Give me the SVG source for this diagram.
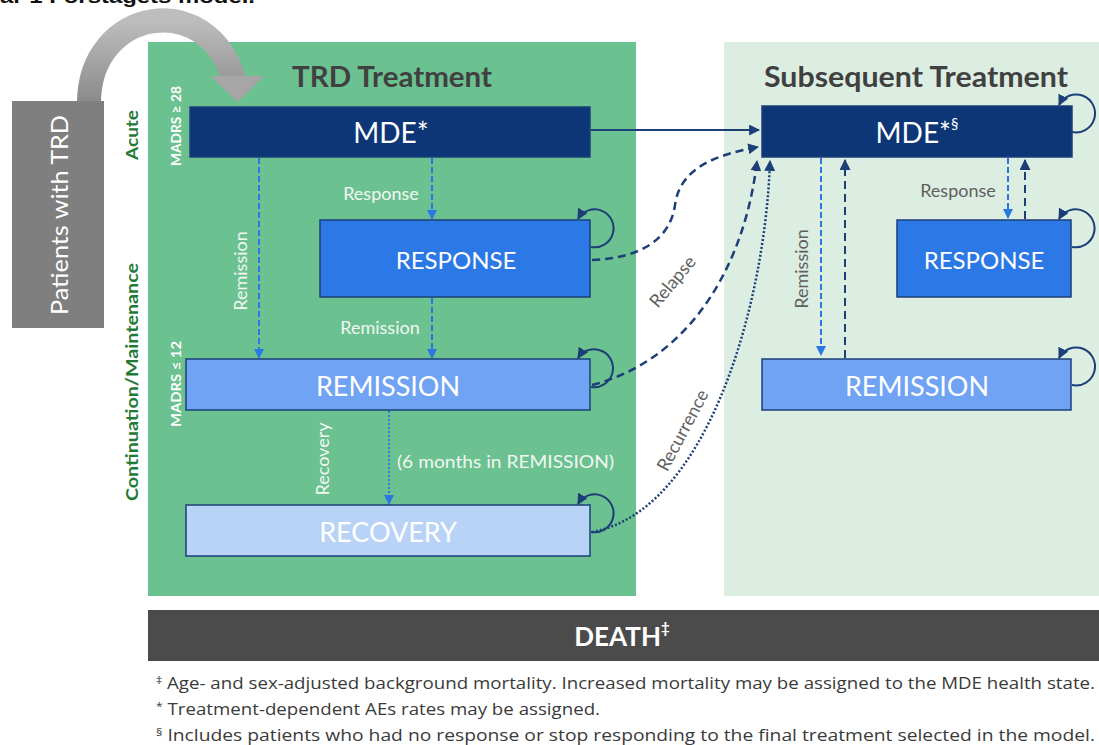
<svg xmlns="http://www.w3.org/2000/svg" width="1099" height="745" viewBox="0 0 1099 745">
<defs>
<style>
.lbl{font-family:Lato,"Open Sans","Liberation Sans",sans-serif;}
.node{stroke:#1d3f78;stroke-width:1.5;}
.nt{font-family:Lato,"Open Sans","Liberation Sans",sans-serif;fill:#ffffff;text-anchor:middle;dominant-baseline:central;}
.wl{font-family:Lato,"Open Sans","Liberation Sans",sans-serif;fill:#f2f7f2;font-size:18px;dominant-baseline:central;}
.gl{font-family:Lato,"Open Sans","Liberation Sans",sans-serif;fill:#5f5f5f;font-size:18px;text-anchor:middle;dominant-baseline:central;}
.loop{fill:none;stroke:#1d3f78;stroke-width:2;marker-end:url(#an);}
.bd{fill:none;stroke:#2b78e4;stroke-width:2;stroke-dasharray:6 3;marker-end:url(#ab);}
.nd{fill:none;stroke:#1d3f78;stroke-width:2.5;stroke-dasharray:8 5;marker-end:url(#an);}
.ndot{fill:none;stroke:#1d3f78;stroke-width:2.5;stroke-dasharray:2 2;marker-end:url(#an);}
.fn{font-family:"Open Sans","Liberation Sans",sans-serif;fill:#3a3a3a;font-size:17px;}
</style>
<marker id="an" viewBox="0 0 10 10" refX="9" refY="5" markerWidth="11" markerHeight="11" markerUnits="userSpaceOnUse" orient="auto">
<path d="M0,0 L10,5 L0,10 z" fill="#1d3f78"/>
</marker>
<marker id="ab" viewBox="0 0 10 10" refX="9" refY="5" markerWidth="10" markerHeight="10" markerUnits="userSpaceOnUse" orient="auto">
<path d="M0,0 L10,5 L0,10 z" fill="#2b78e4"/>
</marker>
<linearGradient id="gArc" x1="0" y1="0" x2="0" y2="1">
<stop offset="0" stop-color="#bdbdbd"/>
<stop offset="1" stop-color="#8a8a8a"/>
</linearGradient>
</defs>
<rect width="1099" height="745" fill="#ffffff"/>

<text x="0" y="3" font-family="Liberation Sans,sans-serif" font-weight="bold" font-size="18" fill="#111" textLength="255" lengthAdjust="spacingAndGlyphs">ar 1 Forstagets model.</text>

<!-- panels -->
<g id="panel-trd">
<rect x="148" y="42" width="488" height="554" fill="#6bc190"/>
<text x="392" y="76" class="lbl" font-size="28" font-weight="bold" fill="#404040" text-anchor="middle" dominant-baseline="central" textLength="200" lengthAdjust="spacingAndGlyphs">TRD Treatment</text>
</g>
<g id="panel-sub">
<rect x="724" y="42" width="375" height="554" fill="#dcede1"/>
<text x="916" y="76" class="lbl" font-size="28" font-weight="bold" fill="#404040" text-anchor="middle" dominant-baseline="central" textLength="304" lengthAdjust="spacingAndGlyphs">Subsequent Treatment</text>
</g>

<!-- side labels -->
<g id="side-labels">
<text transform="translate(131,135) rotate(-90)" class="lbl" font-size="17" font-weight="bold" fill="#1f7a36" text-anchor="middle" dominant-baseline="central" textLength="50" lengthAdjust="spacingAndGlyphs">Acute</text>
<text transform="translate(131,382) rotate(-90)" class="lbl" font-size="17" font-weight="bold" fill="#1f7a36" text-anchor="middle" dominant-baseline="central" textLength="238" lengthAdjust="spacingAndGlyphs">Continuation/Maintenance</text>
<text transform="translate(175,126) rotate(-90)" class="lbl" font-size="14" font-weight="bold" fill="#ffffff" text-anchor="middle" dominant-baseline="central" textLength="80" lengthAdjust="spacingAndGlyphs">MADRS ≥ 28</text>
<text transform="translate(175,384) rotate(-90)" class="lbl" font-size="14" font-weight="bold" fill="#ffffff" text-anchor="middle" dominant-baseline="central" textLength="86" lengthAdjust="spacingAndGlyphs">MADRS ≤ 12</text>
</g>

<!-- patients -->
<g id="patients">
<path d="M89,103 C89,8 208,-12 234,80" fill="none" stroke="url(#gArc)" stroke-width="24"/>
<polygon points="210,76 264,76 238,102" fill="#a6a6a6"/>
<rect x="12" y="101" width="92" height="227" fill="#7f7f7f"/>
<text transform="translate(58,215) rotate(-90)" class="nt" font-size="24" textLength="200" lengthAdjust="spacingAndGlyphs">Patients with TRD</text>
</g>

<!-- connectors -->
<g id="connectors">
<line x1="591" y1="130" x2="759" y2="130" stroke="#1d3f78" stroke-width="2" marker-end="url(#an)"/>
<line x1="259" y1="158" x2="259" y2="358" class="bd"/>
<line x1="432" y1="158" x2="432" y2="219" class="bd"/>
<line x1="432" y1="298" x2="432" y2="358" class="bd"/>
<line x1="389" y1="411" x2="389" y2="504" class="bd" style="stroke-dasharray:2 2"/>
<path d="M592,260 C640,258 670,240 675,205 C680,168 715,155 758,147" class="nd"/>
<path d="M592,385 C690,360 745,265 757,161" class="nd"/>
<path d="M592,532 C705,512 765,310 770,161" class="ndot"/>
<line x1="821" y1="158" x2="821" y2="355" class="bd"/>
<line x1="845" y1="358" x2="845" y2="160" class="nd" style="stroke-width:2"/>
<line x1="1008" y1="158" x2="1008" y2="218" class="bd"/>
<line x1="1025" y1="219" x2="1025" y2="160" class="nd" style="stroke-width:2"/>
<!-- self loops -->
<path d="M591,247 A19,19 0 1 0 578,219" class="loop"/>
<path d="M591,387 A19,19 0 1 0 578,358" class="loop"/>
<path d="M591,532 A19,19 0 1 0 578,504" class="loop"/>
<path d="M1072,132 A19,19 0 1 0 1059,105" class="loop"/>
<path d="M1072,247 A19,19 0 1 0 1059,219" class="loop"/>
<path d="M1072,385 A19,19 0 1 0 1059,358" class="loop"/>
<!-- labels -->
<text x="381" y="193" class="wl" style="text-anchor:middle">Response</text>
<text x="380" y="327" class="wl" style="text-anchor:middle">Remission</text>
<text transform="translate(240,271) rotate(-90)" class="wl" style="text-anchor:middle">Remission</text>
<text transform="translate(322,459) rotate(-90)" class="wl" style="text-anchor:middle">Recovery</text>
<text x="397" y="461" class="wl" style="text-anchor:start" textLength="217" lengthAdjust="spacingAndGlyphs">(6 months in REMISSION)</text>
<text transform="translate(672,281) rotate(-50)" class="gl">Relapse</text>
<text transform="translate(682,430) rotate(-62)" class="gl">Recurrence</text>
<text transform="translate(801,269) rotate(-90)" class="gl">Remission</text>
<text x="958" y="190" class="gl">Response</text>
</g>

<!-- nodes -->
<g id="trd-mde">
<rect x="190" y="107" width="400" height="50" fill="#0d3677" class="node"/>
<text x="391" y="132" class="nt" font-size="28">MDE*</text>
</g>
<g id="trd-response">
<rect x="320" y="220" width="270" height="77" fill="#2b78e6" class="node"/>
<text x="456" y="259" class="nt" font-size="24">RESPONSE</text>
</g>
<g id="trd-remission">
<rect x="186" y="359" width="404" height="51" fill="#70a3f3" class="node"/>
<text x="388" y="385" class="nt" font-size="27">REMISSION</text>
</g>
<g id="trd-recovery">
<rect x="186" y="505" width="404" height="51" fill="#b9d3f7" class="node"/>
<text x="388" y="531" class="nt" font-size="27">RECOVERY</text>
</g>
<g id="sub-mde">
<rect x="762" y="106" width="310" height="51" fill="#0d3677" class="node"/>
<text x="917" y="132" class="nt" font-size="28">MDE*<tspan font-size="15" dy="-9">§</tspan></text>
</g>
<g id="sub-response">
<rect x="897" y="220" width="174" height="77" fill="#2b78e6" class="node"/>
<text x="984" y="259" class="nt" font-size="24">RESPONSE</text>
</g>
<g id="sub-remission">
<rect x="762" y="359" width="309" height="51" fill="#70a3f3" class="node"/>
<text x="917" y="385" class="nt" font-size="27">REMISSION</text>
</g>

<g id="death">
<rect x="148" y="610" width="951" height="51" fill="#4b4b4b"/>
<text x="622" y="636" class="nt" font-size="26" font-weight="bold">DEATH<tspan font-size="15" dy="-9">‡</tspan></text>
</g>

<g id="footnotes">
<text x="156" y="689" class="fn" textLength="939" lengthAdjust="spacingAndGlyphs"><tspan font-size="11" dy="-5">‡</tspan><tspan dy="5"> Age- and sex-adjusted background mortality. Increased mortality may be assigned to the MDE health state.</tspan></text>
<text x="156" y="715" class="fn" textLength="444" lengthAdjust="spacingAndGlyphs"><tspan font-size="11" dy="-5">*</tspan><tspan dy="5"> Treatment-dependent AEs rates may be assigned.</tspan></text>
<text x="156" y="741" class="fn" textLength="939" lengthAdjust="spacingAndGlyphs"><tspan font-size="11" dy="-5">§</tspan><tspan dy="5"> Includes patients who had no response or stop responding to the final treatment selected in the model.</tspan></text>
</g>
</svg>
